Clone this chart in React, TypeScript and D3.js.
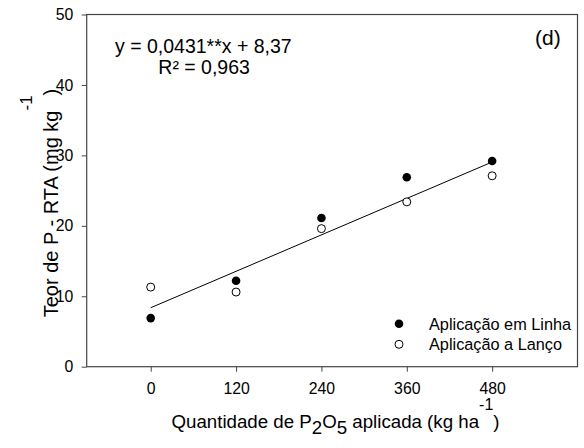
import { useEffect, useRef } from "react"
import * as d3 from "d3"

const doses = [0, 120, 240, 360, 480]
const linha = [6.9, 12.2, 21.1, 26.9, 29.2]
const lanco = [11.3, 10.6, 19.6, 23.4, 27.1]
const xTicks = [0, 120, 240, 360, 480]
const yTicks = [0, 10, 20, 30, 40, 50]
const slope = 0.0431
const intercept = 8.37

const W = 584
const H = 448
const margin = { top: 14.5, right: 6.5, bottom: 81.3, left: 86.7 }
const font = "Arial, 'Liberation Sans', sans-serif"

export default function App() {
  const ref = useRef<SVGGElement>(null)
  const iw = W - margin.left - margin.right
  const ih = H - margin.top - margin.bottom

  const x = d3.scaleLinear().domain([-90, 600]).range([0, iw])
  const y = d3.scaleLinear().domain([0, 50]).range([ih, 0])

  useEffect(() => {
    if (!ref.current) return
    const g = d3.select(ref.current)
    g.selectAll("*").remove()

    const xa = g.append("g").attr("transform", `translate(0,${ih})`)
      .call(d3.axisBottom(x).tickValues(xTicks).tickSize(5).tickPadding(10.6).tickFormat(d3.format("d")))
    const ya = g.append("g")
      .call(d3.axisLeft(y).tickValues(yTicks).tickSize(5).tickPadding(8.4).tickFormat(d3.format("d")))
    ;[xa, ya].forEach(a => {
      a.select(".domain").remove()
      a.selectAll("line").attr("stroke", "#444")
      a.selectAll("text").attr("font-family", font).attr("font-size", 15.8).attr("fill", "#000")
    })

    // frame
    g.append("rect").attr("width", iw).attr("height", ih)
      .attr("fill", "none").attr("stroke", "#444").attr("stroke-width", 1.2)

    // regression line
    const line = d3.line<number>().x(d => x(d)).y(d => y(slope * d + intercept))
    g.append("path").datum([0, 480]).attr("d", line)
      .attr("stroke", "#000").attr("fill", "none").attr("stroke-width", 1)

    g.append("g").selectAll("circle").data(doses).join("circle")
      .attr("cx", d => x(d)).attr("cy", (d, i) => y(lanco[i])).attr("r", 4)
      .attr("fill", "#fff").attr("stroke", "#000").attr("stroke-width", 1)
    g.append("g").selectAll("circle").data(doses).join("circle")
      .attr("cx", d => x(d)).attr("cy", (d, i) => y(linha[i])).attr("r", 4.3)
      .attr("fill", "#000")
  }, [])

  return (
    <svg width={W} height={H} style={{ position: "absolute", left: 0, top: 0 }}>
      <rect width={W} height={H} fill="#fff" />
      <g ref={ref} transform={`translate(${margin.left},${margin.top})`} />
      <g fontFamily={font} fill="#000">
        <text x={115} y={53} fontSize={19.5}>y = 0,0431**x + 8,37</text>
        <text x={158.3} y={74} fontSize={19.5}>R² = 0,963</text>
        <text x={535} y={45} fontSize={21}>(d)</text>
        <circle cx={399} cy={323.7} r={4.3} fill="#000" />
        <circle cx={399} cy={344.3} r={4} fill="#fff" stroke="#000" />
        <text x={429} y={330} fontSize={16.3}>Aplicação em Linha</text>
        <text x={429} y={350} fontSize={16.3}>Aplicação a Lanço</text>
        <text x={335.5} y={428.3} textAnchor="middle" fontSize={18.7}>
          Quantidade de P<tspan dy={5.5}>2</tspan><tspan dy={-5.5}>O</tspan><tspan dy={5.5}>5</tspan><tspan dy={-5.5}> aplicada (kg ha</tspan><tspan dy={-18} fontSize={16}>-1</tspan><tspan dy={18}>)</tspan>
        </text>
        <text transform="translate(58.3,203) rotate(-90)" textAnchor="middle" fontSize={20}>
          Teor de P - RTA (mg kg<tspan dy={-26} fontSize={17}>-1</tspan><tspan dy={26}>)</tspan>
        </text>
      </g>
    </svg>
  )
}
